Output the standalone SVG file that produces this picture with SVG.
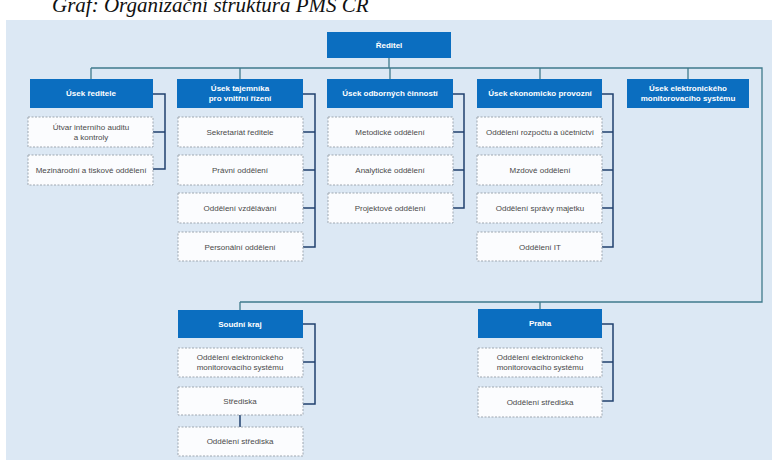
<svg xmlns="http://www.w3.org/2000/svg" width="776" height="460" viewBox="0 0 776 460">
<style>
.hd{fill:#0b6ec0}
.ch{fill:#fbfcfe;stroke:#9ea7b0;stroke-width:1;stroke-dasharray:2 1.5}
.ht{font-family:"Liberation Sans",Arial,sans-serif;font-size:8px;fill:#ffffff;font-weight:bold;text-anchor:middle}
.ct{font-family:"Liberation Sans",Arial,sans-serif;font-size:8px;fill:#4a4a4a;text-anchor:middle}
.ln{fill:none;stroke:#3f7a8c;stroke-width:1.3}
.br{fill:none;stroke:#20406e;stroke-width:1.5}
</style>
<rect x="0" y="0" width="776" height="460" fill="#ffffff"/>
<text x="52" y="12" font-family="Liberation Serif,serif" font-style="italic" font-size="21" fill="#111">Graf: Organizační struktura PMS ČR</text>
<rect x="6" y="20" width="766" height="440" fill="#dce8f4"/>
<g id="connectors">
<path class="ln" d="M389 58V68M91 68H762V302H240M91 68V79M240 68V79M390 68V79M540 68V79M688 68V79M240 302V310M540 302V309"/>
<path class="br" d="M153 94H165V169H153M153 132H165"/>
<path class="br" d="M303 94H315V247H303M303 132H315M303 170H315M303 208H315"/>
<path class="br" d="M453 94H464V208H453M453 132H464M453 170H464"/>
<path class="br" d="M602 94H613V247H602M602 132H613M602 170H613M602 208H613"/>
<path class="br" d="M303 324H315V404H303M303 362H315"/>
<path class="br" d="M240 415V427"/>
<path class="br" d="M602 324H613V401H602M602 362H613"/>
</g>
<g id="reditel"><rect class="hd" x="327" y="32" width="124" height="26"/><text class="ht" x="389" y="48">Ředitel</text></g>
<g id="usek-reditele"><rect class="hd" x="30" y="79" width="123" height="29"/><text class="ht" x="91" y="96">Úsek ředitele</text></g>
<g id="usek-tajemnika"><rect class="hd" x="177" y="79" width="126" height="29"/><text class="ht" x="240" y="91">Úsek tajemníka</text><text class="ht" x="240" y="101">pro vnitřní řízení</text></g>
<g id="usek-odbornych"><rect class="hd" x="327" y="79" width="126" height="29"/><text class="ht" x="390" y="96">Úsek odborných činností</text></g>
<g id="usek-ekonomicko"><rect class="hd" x="477" y="79" width="125" height="29"/><text class="ht" x="540" y="96">Úsek ekonomicko provozní</text></g>
<g id="usek-ems"><rect class="hd" x="627" y="79" width="122" height="29"/><text class="ht" x="688" y="91">Úsek elektronického</text><text class="ht" x="688" y="101">monitorovacího systému</text></g>
<g id="utvar-auditu"><rect class="ch" x="28" y="117" width="125" height="30"/><text class="ct" x="91" y="130">Útvar interního auditu</text><text class="ct" x="91" y="140">a kontroly</text></g>
<g id="mezinarodni"><rect class="ch" x="28" y="155" width="125" height="30"/><text class="ct" x="91" y="173">Mezinárodní a tiskové oddělení</text></g>
<g id="sekretariat"><rect class="ch" x="178" y="117" width="125" height="30"/><text class="ct" x="240" y="135">Sekretariát ředitele</text></g>
<g id="pravni"><rect class="ch" x="178" y="155" width="125" height="30"/><text class="ct" x="240" y="173">Právní oddělení</text></g>
<g id="vzdelavani"><rect class="ch" x="178" y="193" width="125" height="30"/><text class="ct" x="240" y="211">Oddělení vzdělávání</text></g>
<g id="personalni"><rect class="ch" x="178" y="232" width="125" height="29"/><text class="ct" x="240" y="250">Personální oddělení</text></g>
<g id="metodicke"><rect class="ch" x="328" y="117" width="125" height="30"/><text class="ct" x="390" y="135">Metodické oddělení</text></g>
<g id="analyticke"><rect class="ch" x="328" y="155" width="125" height="30"/><text class="ct" x="390" y="173">Analytické oddělení</text></g>
<g id="projektove"><rect class="ch" x="328" y="193" width="125" height="30"/><text class="ct" x="390" y="211">Projektové oddělení</text></g>
<g id="rozpoctu"><rect class="ch" x="477" y="117" width="125" height="30"/><text class="ct" x="540" y="135">Oddělení rozpočtu a účetnictví</text></g>
<g id="mzdove"><rect class="ch" x="477" y="155" width="125" height="30"/><text class="ct" x="540" y="173">Mzdové oddělení</text></g>
<g id="spravy"><rect class="ch" x="477" y="193" width="125" height="30"/><text class="ct" x="540" y="211">Oddělení správy majetku</text></g>
<g id="it"><rect class="ch" x="477" y="232" width="125" height="29"/><text class="ct" x="540" y="250">Oddělení IT</text></g>
<g id="soudni-kraj"><rect class="hd" x="178" y="310" width="125" height="28"/><text class="ht" x="240" y="327">Soudní kraj</text></g>
<g id="sk-ems"><rect class="ch" x="178" y="348" width="125" height="29"/><text class="ct" x="240" y="360">Oddělení elektronického</text><text class="ct" x="240" y="370">monitorovacího systému</text></g>
<g id="sk-strediska"><rect class="ch" x="178" y="387" width="125" height="28"/><text class="ct" x="240" y="404">Střediska</text></g>
<g id="sk-oddeleni-strediska"><rect class="ch" x="178" y="427" width="125" height="29"/><text class="ct" x="240" y="444">Oddělení střediska</text></g>
<g id="praha"><rect class="hd" x="478" y="309" width="124" height="29"/><text class="ht" x="540" y="326">Praha</text></g>
<g id="pr-ems"><rect class="ch" x="478" y="348" width="124" height="29"/><text class="ct" x="540" y="360">Oddělení elektronického</text><text class="ct" x="540" y="370">monitorovacího systému</text></g>
<g id="pr-oddeleni-strediska"><rect class="ch" x="478" y="387" width="124" height="30"/><text class="ct" x="540" y="405">Oddělení střediska</text></g>
</svg>
